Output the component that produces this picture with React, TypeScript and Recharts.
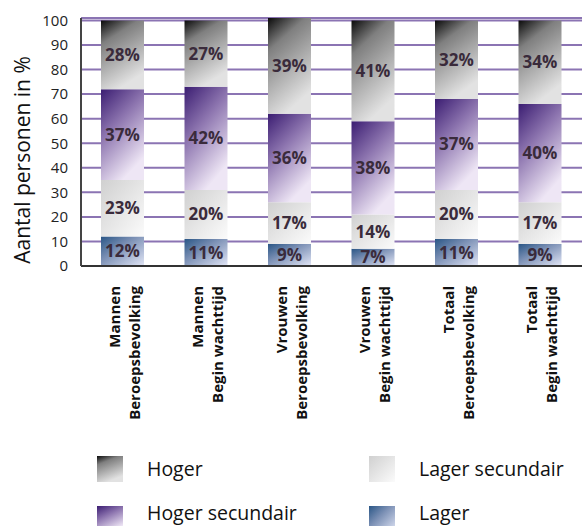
import React from 'react';
import {
  BarChart,
  Bar,
  XAxis,
  YAxis,
  CartesianGrid,
  Legend,
  LabelList,
} from 'recharts';

const groups = ['Mannen', 'Mannen', 'Vrouwen', 'Vrouwen', 'Totaal', 'Totaal'];
const subgroups = [
  'Beroepsbevolking',
  'Begin wachttijd',
  'Beroepsbevolking',
  'Begin wachttijd',
  'Beroepsbevolking',
  'Begin wachttijd',
];

const lager = [12, 11, 9, 7, 11, 9];
const lagerSecundair = [23, 20, 17, 14, 20, 17];
const hogerSecundair = [37, 42, 36, 38, 37, 40];
const hoger = [28, 27, 39, 41, 32, 34];

const yTicks = [0, 10, 20, 30, 40, 50, 60, 70, 80, 90, 100];

const data = groups.map((g, i) => ({
  name: g + '|' + subgroups[i],
  lager: lager[i],
  lagerSecundair: lagerSecundair[i],
  hogerSecundair: hogerSecundair[i],
  hoger: hoger[i],
}));

const FONT = '"Open Sans", sans-serif';
const LABEL_COLOR = '#3a2b3b';

const XTick = (props: any) => {
  const { x, y, payload } = props;
  const [first, second] = String(payload.value).split('|');
  return (
    <g transform={`translate(${x},${y})`}>
      <text
        transform="rotate(-90)"
        textAnchor="end"
        fontFamily={FONT}
        fontWeight="bold"
        fontSize={15}
        fill="#111"
      >
        <tspan x={-12} y={-3}>{first}</tspan>
        <tspan x={-12} y={17}>{second}</tspan>
      </text>
    </g>
  );
};

const YLabel = () => {
  const cx = 22;
  const cy = 160;
  return (
    <text
      x={cx}
      y={cy}
      transform={`rotate(-90, ${cx}, ${cy})`}
      textAnchor="middle"
      dominantBaseline="central"
      fontFamily={FONT}
      fontSize={21}
      fill="#111"
    >
      Aantal personen in %
    </text>
  );
};

const legendItems = [
  { label: 'Hoger', grad: 'gHoger', left: 97, top: 36, textY: 49 },
  { label: 'Lager secundair', grad: 'gLagerSec', left: 369, top: 36, textY: 49 },
  { label: 'Hoger secundair', grad: 'gHogerSec', left: 97, top: 86, textY: 93 },
  { label: 'Lager', grad: 'gLager', left: 369, top: 86, textY: 93 },
];

const LegendGrid = () => (
  <div style={{ position: 'relative', height: 106, width: 582, fontFamily: FONT }}>
    {legendItems.map((it) => (
      <div key={it.label}>
        <svg
          width={26}
          height={26}
          style={{ position: 'absolute', left: it.left, top: it.top }}
        >
          <rect width={26} height={26} fill={`url(#${it.grad})`} />
        </svg>
        <span
          style={{
            position: 'absolute',
            left: it.left + 50,
            top: it.textY,
            transform: 'translateY(-50%)',
            fontSize: 19.5,
            lineHeight: '22px',
            color: '#111',
            whiteSpace: 'nowrap',
          }}
        >
          {it.label}
        </span>
      </div>
    ))}
  </div>
);

const labelProps = {
  position: 'center' as const,
  formatter: (v: any) => `${v}%`,
  fill: LABEL_COLOR,
  fontSize: 17,
  fontWeight: 'bold',
  fontFamily: FONT,
};

const App: React.FC = () => {
  return (
    <div style={{ position: 'absolute', left: 0, top: 0, width: 582, height: 526, fontFamily: FONT }}>
      <BarChart
        width={582}
        height={526}
        data={data}
        margin={{ top: 18, right: 0, bottom: 0, left: 0 }}
        barSize={43}
      >
        <defs>
          <linearGradient id="gHoger" x1="0" y1="0" x2="0.4" y2="1">
            <stop offset="0" stopColor="#0a0a0a" />
            <stop offset="0.3" stopColor="#7f7f7f" />
            <stop offset="1" stopColor="#e2e2e2" />
          </linearGradient>
          <linearGradient id="gHogerSec" x1="0" y1="0" x2="0.5" y2="1">
            <stop offset="0" stopColor="#3b1d72" />
            <stop offset="0.45" stopColor="#8e76b0" />
            <stop offset="1" stopColor="#eee6f5" />
          </linearGradient>
          <linearGradient id="gLagerSec" x1="0" y1="0" x2="1" y2="1">
            <stop offset="0" stopColor="#d0d0d0" />
            <stop offset="1" stopColor="#fbfbfb" />
          </linearGradient>
          <linearGradient id="gLager" x1="0" y1="0" x2="1" y2="1">
            <stop offset="0" stopColor="#2a5686" />
            <stop offset="0.4" stopColor="#7a8fb4" />
            <stop offset="1" stopColor="#e2e6f6" />
          </linearGradient>
        </defs>
        <CartesianGrid vertical={false} stroke="#8b74b3" strokeWidth={2} />
        <XAxis
          dataKey="name"
          interval={0}
          tickLine={false}
          axisLine={{ stroke: '#333', strokeWidth: 2 }}
          tick={<XTick />}
          height={154}
        />
        <YAxis
          domain={[0, 101]}
          ticks={yTicks}
          width={81}
          tickLine={false}
          tickMargin={7}
          axisLine={{ stroke: '#444', strokeWidth: 2 }}
          tick={{ fill: '#222', fontSize: 15, fontFamily: FONT }}
          label={YLabel}
        />
        <Legend verticalAlign="bottom" content={() => <LegendGrid />} />
        <Bar dataKey="lager" stackId="a" fill="url(#gLager)" isAnimationActive={false}>
          <LabelList dataKey="lager" {...labelProps} />
        </Bar>
        <Bar dataKey="lagerSecundair" stackId="a" fill="url(#gLagerSec)" isAnimationActive={false}>
          <LabelList dataKey="lagerSecundair" {...labelProps} />
        </Bar>
        <Bar dataKey="hogerSecundair" stackId="a" fill="url(#gHogerSec)" isAnimationActive={false}>
          <LabelList dataKey="hogerSecundair" {...labelProps} />
        </Bar>
        <Bar dataKey="hoger" stackId="a" fill="url(#gHoger)" isAnimationActive={false}>
          <LabelList dataKey="hoger" {...labelProps} />
        </Bar>
      </BarChart>
    </div>
  );
};

export default App;
